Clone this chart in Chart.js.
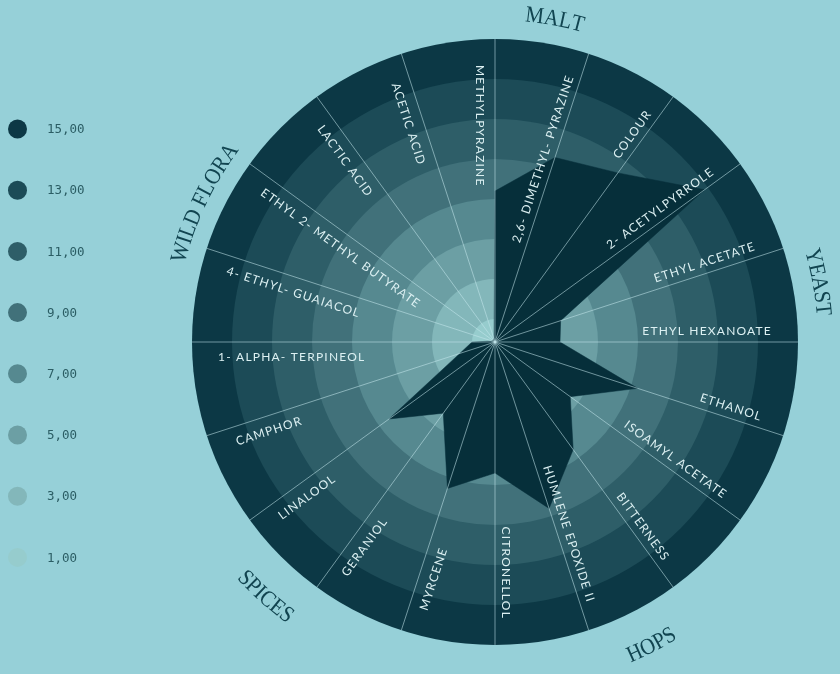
<!DOCTYPE html>
<html>
<head>
<meta charset="utf-8">
<script src="https://cdn.jsdelivr.net/npm/chart.js@4.4.1/dist/chart.umd.min.js"></script>
<style>
  html, body { margin: 0; padding: 0; background: #96d0d8; }
  canvas { display: block; }
</style>
</head>
<body>
<canvas id="wheel" width="840" height="674"></canvas>
<script>
// aroma attributes, clockwise from the top
const labels = [
  "METHYLPYRAZINE", "2,6- DIMETHYL- PYRAZINE", "COLOUR", "2- ACETYLPYRROLE",
  "ETHYL ACETATE", "ETHYL HEXANOATE", "ETHANOL", "ISOAMYL ACETATE",
  "BITTERNESS", "HUMLENE EPOXIDE II", "CITRONELLOL", "MYRCENE",
  "GERANIOL", "LINALOOL", "CAMPHOR", "1- ALPHA- TERPINEOL",
  "4- ETHYL- GUAIACOL", "ETHYL 2- METHYL BUTYRATE", "LACTIC ACID", "ACETIC ACID"
];
const values = [7.4, 9.55, 10.3, 12.8, 3.3, 3.1, 7.35, 4.5, 6.5, 8.6, 6.4, 7.55, 4.25, 6.4, 1.7, 1.0, 0, 0, 0, 0];

// flavour groups round the wheel
const groups = ["MALT", "YEAST", "HOPS", "SPICES", "WILD FLORA"];

// ring bands and legend
const bandValues = [15, 13, 11, 9, 7, 5, 3, 1];
const legendLabels = ["15,00", "13,00", "11,00", "9,00", "7,00", "5,00", "3,00", "1,00"];
const bandColors = ["#0c3845", "#1c4b57", "#2e5e68", "#41717a", "#568990", "#6c9fa4", "#83b7ba", "#96cccd"];

// where the group names sit (degrees clockwise from top, radius, reads along bottom?)
const groupPos = [
  { deg: 10.5, rad: 322, bottom: false },
  { deg: 79.5, rad: 323, bottom: false },
  { deg: 152.7, rad: 348, bottom: true },
  { deg: 222, rad: 350, bottom: true },
  { deg: 295.5, rad: 320, bottom: false }
];

function arcText(ctx, text, cx, cy, R, deg, bottom, squeeze) {
  const chars = [...text];
  const widths = chars.map(c => ctx.measureText(c).width * squeeze);
  const total = widths.reduce((a, b) => a + b, 0);
  const dir = bottom ? -1 : 1;
  let phi = deg * Math.PI / 180 - dir * total / R / 2;
  chars.forEach((c, k) => {
    const mid = phi + dir * widths[k] / 2 / R;
    ctx.save();
    ctx.translate(cx + R * Math.sin(mid), cy - R * Math.cos(mid));
    ctx.rotate(bottom ? mid - Math.PI : mid);
    ctx.scale(squeeze, 1);
    ctx.fillText(c, 0, 0);
    ctx.restore();
    phi += dir * widths[k] / R;
  });
}

const wheelPlugin = {
  id: "wheel",
  beforeDatasetsDraw(chart) {
    const r = chart.scales.r;
    const ctx = chart.ctx;
    ctx.save();
    bandValues.forEach((v, i) => {
      ctx.beginPath();
      ctx.arc(r.xCenter, r.yCenter, r.getDistanceFromCenterForValue(v), 0, Math.PI * 2);
      ctx.fillStyle = bandColors[i];
      ctx.fill();
    });
    ctx.restore();
  },
  afterDraw(chart) {
    const r = chart.scales.r;
    const ctx = chart.ctx;
    const outer = r.drawingArea - 26;

    // spoke labels
    ctx.save();
    ctx.font = "12px Lato";
    ctx.letterSpacing = "1.2px";
    ctx.fillStyle = "#dcf0f2";
    labels.forEach((txt, i) => {
      const a = r.getIndexAngle(i);
      ctx.save();
      ctx.translate(r.xCenter, r.yCenter);
      if (i >= 1 && i <= 10) {
        ctx.rotate(a - Math.PI / 2);
        ctx.textAlign = "right";
        ctx.textBaseline = "alphabetic";
        ctx.fillText(txt, outer, -7);
      } else {
        ctx.rotate(a + Math.PI / 2);
        ctx.textAlign = "left";
        ctx.textBaseline = "top";
        ctx.fillText(txt, -outer, 9);
      }
      ctx.restore();
    });
    ctx.restore();

    // group names on the rim
    ctx.save();
    ctx.font = "23px 'Liberation Serif'";
    ctx.fillStyle = "#114450";
    ctx.textAlign = "center";
    ctx.textBaseline = "alphabetic";
    groups.forEach((g, i) => {
      const p = groupPos[i];
      arcText(ctx, g, r.xCenter, r.yCenter, p.rad, p.deg, p.bottom, 0.9);
    });
    ctx.restore();

    // colour legend
    ctx.save();
    ctx.font = "12.5px 'DejaVu Sans Mono'";
    ctx.textBaseline = "middle";
    legendLabels.forEach((t, i) => {
      const y = 129 + i * 61.2;
      ctx.beginPath();
      ctx.arc(17.5, y, 9.5, 0, Math.PI * 2);
      ctx.fillStyle = bandColors[i];
      ctx.fill();
      ctx.fillStyle = "#2b5d64";
      ctx.fillText(t, 47, y + 1);
    });
    ctx.restore();
  }
};

new Chart(document.getElementById("wheel"), {
  type: "radar",
  data: {
    labels: labels,
    datasets: [{
      data: values,
      fill: "start",
      backgroundColor: "#062f3a",
      borderColor: "#062f3a",
      borderWidth: 0.5,
      pointRadius: 0
    }]
  },
  options: {
    responsive: false,
    animation: false,
    layout: { padding: { left: 192, right: 42, top: 39, bottom: 29 } },
    plugins: {
      legend: { display: false },
      tooltip: { enabled: false }
    },
    scales: {
      r: {
        min: -0.15,
        max: 15,
        // z above the datasets so the spokes run over the filled shape
        grid: { display: false, z: 1 },
        angleLines: { display: true, color: "rgba(196,232,236,0.55)", lineWidth: 1 },
        ticks: { display: false },
        pointLabels: { display: false }
      }
    }
  },
  plugins: [wheelPlugin]
});
</script>
</body>
</html>
